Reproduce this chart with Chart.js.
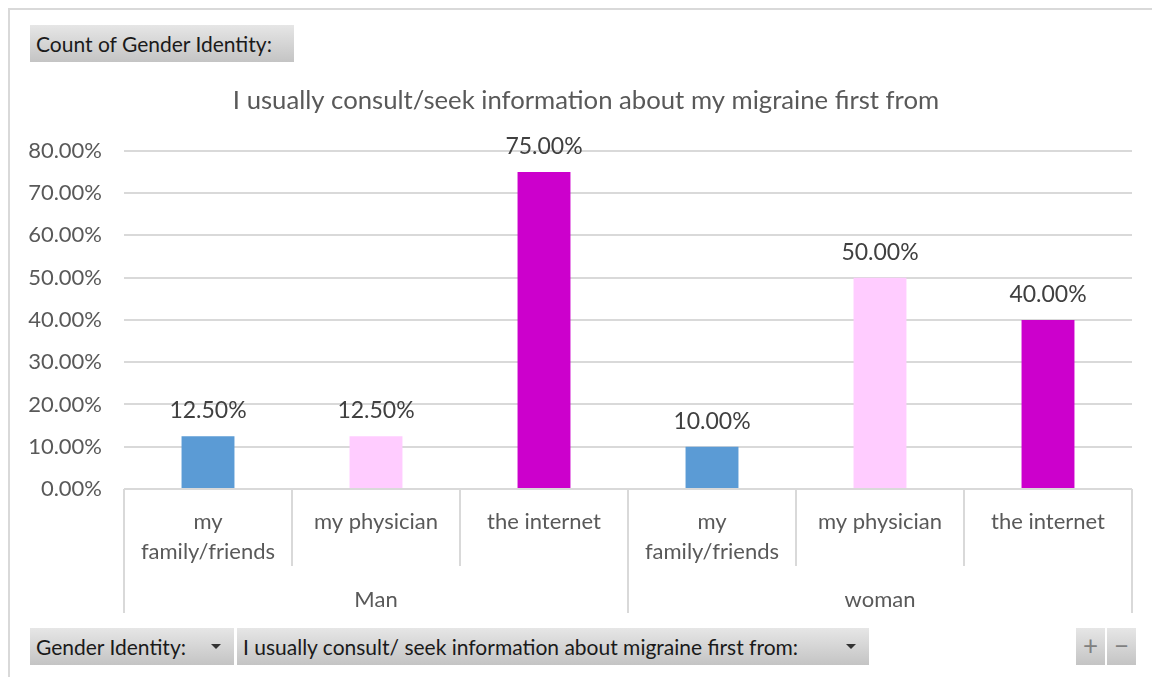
<!DOCTYPE html>
<html>
<head>
<meta charset="utf-8">
<script src="https://cdn.jsdelivr.net/npm/chart.js@4.4.0/dist/chart.umd.min.js"></script>
<style>
  html, body { margin: 0; padding: 0; background: #fff; overflow: hidden; }
  body { width: 1152px; height: 677px; position: relative; font-family: Lato, "Open Sans", sans-serif; }
  .frame { position: absolute; left: 8px; top: 8px; width: 1150px; height: 700px; border: 2px solid #d9d9d9; box-sizing: border-box; }
  .btn { position: absolute; background: linear-gradient(#e6e6e6, #c4c4c4); color: #1a1a1a; font-size: 21px; line-height: 37px; height: 37px; padding-left: 6px; box-sizing: border-box; white-space: nowrap; }
  .arrow { position: absolute; top: 16px; width: 0; height: 0; border-left: 5px solid transparent; border-right: 5px solid transparent; border-top: 5px solid #333; }
  .pm { position: absolute; top: 628px; height: 37px; width: 29px; background: linear-gradient(#e6e6e6, #c4c4c4); color: #808080; font-size: 26px; line-height: 35px; text-align: center; }
  #wrap { position: absolute; left: 10px; top: 75px; width: 1152px; height: 545px; }
</style>
</head>
<body>
<div class="frame"></div>
<div class="btn" style="left:30px; top:25px; width:264px;">Count of Gender Identity:</div>
<div id="wrap"><canvas id="chart"></canvas></div>
<div class="btn" style="left:30px; top:628px; width:204px;">Gender Identity:<span class="arrow" style="left:181px;"></span></div>
<div class="btn" style="left:237px; top:628px; width:632px;">I usually consult/ seek information about migraine first from:<span class="arrow" style="left:609px;"></span></div>
<div class="pm" style="left:1076px;">+</div>
<div class="pm" style="left:1107px;">−</div>
<script>
// categories (inner level) and groups (outer level)
const sources = [['my', 'family/friends'], ['my physician'], ['the internet']];
const genders = ['Man', 'woman'];
const sourceColors = ['#5B9BD5', '#FFCCFF', '#CC00CC'];

// share of each gender per source
const manValues = [0.125, 0.125, 0.75];
const womanValues = [0.10, 0.50, 0.40];

const yTicks = [0, 0.1, 0.2, 0.3, 0.4, 0.5, 0.6, 0.7, 0.8];

const labels = [];
const values = [];
const colors = [];
[manValues, womanValues].forEach(function (vals) {
  vals.forEach(function (v, i) {
    labels.push(sources[i]);
    values.push(v);
    colors.push(sourceColors[i]);
  });
});

const pct = v => (v * 100).toFixed(2) + '%';
const FONT = 'Lato, "Open Sans", sans-serif';

// value labels above bars
const barLabels = {
  id: 'barLabels',
  afterDatasetsDraw(chart) {
    const ctx = chart.ctx;
    const meta = chart.getDatasetMeta(0);
    ctx.save();
    ctx.font = '23px ' + FONT;
    ctx.fillStyle = '#404040';
    ctx.textAlign = 'center';
    ctx.textBaseline = 'bottom';
    meta.data.forEach(function (bar, i) {
      ctx.fillText(pct(values[i]), bar.x, bar.y - 14);
    });
    ctx.restore();
  }
};

// two-level category axis
const groupAxis = {
  id: 'groupAxis',
  afterDraw(chart) {
    const ctx = chart.ctx;
    const xs = chart.scales.x;
    const area = chart.chartArea;
    const n = labels.length;
    const per = sources.length;
    const step = (area.right - area.left) / n;
    ctx.save();
    ctx.strokeStyle = '#d9d9d9';
    ctx.lineWidth = 2;
    for (let i = 0; i <= n; i++) {
      const x = Math.round(area.left + step * i);
      const len = (i % per === 0) ? 124 : 77;
      ctx.beginPath();
      ctx.moveTo(x, area.bottom);
      ctx.lineTo(x, area.bottom + len);
      ctx.stroke();
    }
    ctx.font = '22px ' + FONT;
    ctx.fillStyle = '#595959';
    ctx.textAlign = 'center';
    ctx.textBaseline = 'middle';
    labels.forEach(function (lab, i) {
      const x = xs.getPixelForValue(i);
      lab.forEach(function (line, j) {
        ctx.fillText(line, x, area.bottom + 33 + j * 30);
      });
    });
    genders.forEach(function (g, k) {
      const x = (xs.getPixelForValue(k * per) + xs.getPixelForValue(k * per + per - 1)) / 2;
      ctx.fillText(g, x, area.bottom + 111);
    });
    ctx.restore();
  }
};

new Chart(document.getElementById('chart'), {
  type: 'bar',
  data: {
    labels: labels,
    datasets: [{
      data: values,
      backgroundColor: colors,
      categoryPercentage: 1,
      barPercentage: 0.315
    }]
  },
  options: {
    responsive: true,
    maintainAspectRatio: false,
    animation: false,
    layout: { padding: { left: 0, right: 0, top: 0, bottom: 123 } },
    plugins: {
      legend: { display: false },
      tooltip: { enabled: false },
      title: {
        display: true,
        text: 'I usually consult/seek information about my migraine first from',
        color: '#595959',
        font: { family: FONT, size: 25.7, weight: 'normal' },
        padding: { top: 10, bottom: 35 }
      }
    },
    scales: {
      x: {
        ticks: { display: false },
        grid: { display: false },
        border: { display: false }
      },
      y: {
        min: 0,
        max: 0.8,
        afterBuildTicks(scale) { scale.ticks = yTicks.map(v => ({ value: v })); },
        afterFit(scale) { scale.width = 114; },
        ticks: {
          padding: 22,
          color: '#595959',
          font: { family: FONT, size: 22 },
          callback: v => pct(v)
        },
        grid: { color: '#d9d9d9', lineWidth: 2, drawTicks: false },
        border: { display: false }
      },
      // empty right-hand spacer so the title sits where the original has it
      yRight: {
        position: 'right',
        min: 0,
        max: 0.8,
        afterFit(scale) { scale.width = 30; },
        ticks: { display: false },
        grid: { display: false },
        border: { display: false }
      }
    }
  },
  plugins: [barLabels, groupAxis]
});
</script>
</body>
</html>
